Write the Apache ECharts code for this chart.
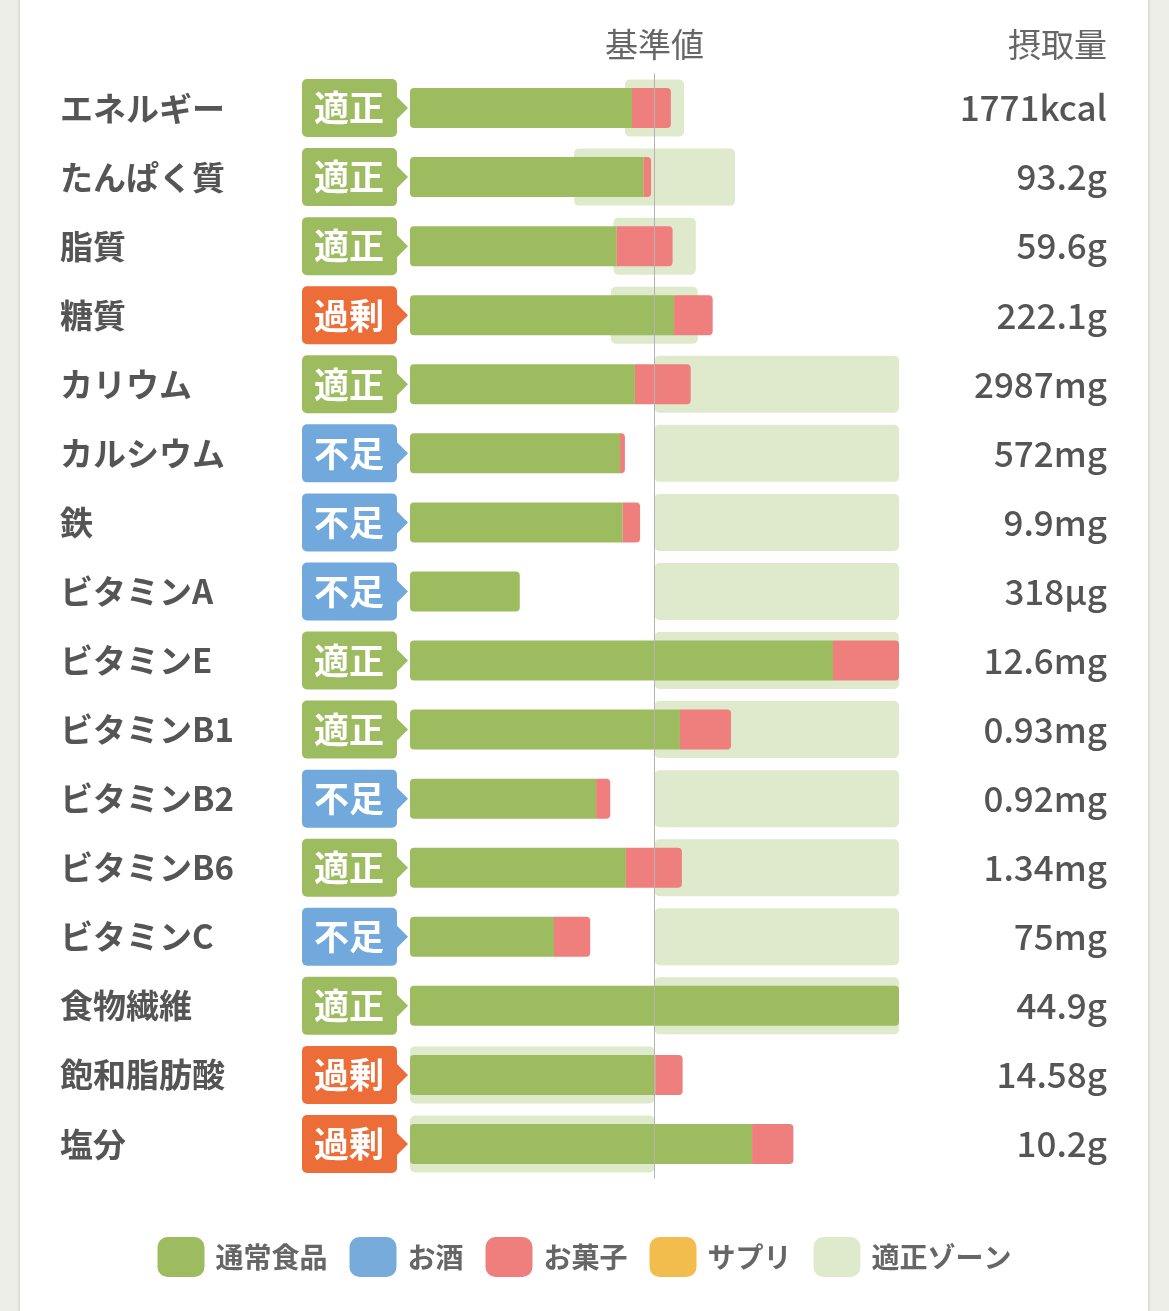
<!DOCTYPE html>
<html>
<head>
<meta charset="utf-8">
<script src="https://cdn.jsdelivr.net/npm/echarts@6/dist/echarts.min.js"></script>
<style>
  html, body { margin: 0; padding: 0; background: #eeeee8; }
  #chart { width: 1169px; height: 1311px; }
</style>
</head>
<body>
<div id="chart"></div>
<script>
// 栄養素ごとの摂取状況 (基準値 = 100)
var nutrients = ['エネルギー', 'たんぱく質', '脂質', '糖質', 'カリウム', 'カルシウム', '鉄', 'ビタミンA',
    'ビタミンE', 'ビタミンB1', 'ビタミンB2', 'ビタミンB6', 'ビタミンC', '食物繊維', '飽和脂肪酸', '塩分'];
var judgement = ['適正', '適正', '適正', '過剰', '適正', '不足', '不足', '不足',
    '適正', '適正', '不足', '適正', '不足', '適正', '過剰', '過剰'];
var intake = ['1771kcal', '93.2g', '59.6g', '222.1g', '2987mg', '572mg', '9.9mg', '318µg',
    '12.6mg', '0.93mg', '0.92mg', '1.34mg', '75mg', '44.9g', '14.58g', '10.2g'];

// % of standard value
var normalFood = [90.8, 95.5, 84.5, 108.0, 92.0, 85.9, 87.0, 44.9, 173.0, 110.4, 76.1, 88.3, 58.9, 200, 100.3, 139.9];
var alcohol    = [0, 0, 0, 0, 0, 0, 0, 0, 0, 0, 0, 0, 0, 0, 0, 0];
var sweets     = [15.9, 3.1, 22.9, 15.8, 22.8, 2.0, 7.1, 0, 27.0, 20.9, 5.8, 22.9, 14.8, 0, 11.2, 16.9];
var supplement = [0, 0, 0, 0, 0, 0, 0, 0, 0, 0, 0, 0, 0, 0, 0, 0];
var zoneFrom   = [87.9, 67.1, 83.2, 82.2, 100, 100, 100, 100, 100, 100, 100, 100, 100, 100, 0, 0];
var zoneTo     = [112.1, 132.9, 116.9, 117.7, 200, 200, 200, 200, 200, 200, 200, 200, 200, 200, 100, 100];

var FONT = '"Noto Sans CJK JP", "Noto Sans", sans-serif';
var colors = {
    food: '#9dbb5f',
    alcohol: '#76abdc',
    sweets: '#ee7f7d',
    supplement: '#f3bd4e',
    zone: '#dfe9cc'
};
var badgeColors = { '適正': '#9dbb5f', '過剰': '#ec6d38', '不足': '#72a9dc' };

var myChart = echarts.init(document.getElementById('chart'));

var foodData = normalFood.map(function (v, i) {
    var r = sweets[i] > 0 ? [4, 0, 0, 4] : 4;
    return { value: v, itemStyle: { borderRadius: r } };
});
var sweetsData = sweets.map(function (v) {
    return { value: v, itemStyle: { borderRadius: [0, 4, 4, 0] } };
});
var zoneData = zoneTo.map(function (v, i) { return v - zoneFrom[i]; });

var option = {
    backgroundColor: '#eeeee8',
    animation: false,
    graphic: [
        {
            type: 'rect', z: -10, silent: true,
            shape: { x: 20, y: -10, width: 1128, height: 1330 },
            style: { fill: '#fff', shadowBlur: 4, shadowColor: 'rgba(0,0,0,0.18)' }
        },
        {
            type: 'text', left: 605, top: 28,
            style: { text: '基準値', fontSize: 33, fontFamily: FONT, fill: '#666' }
        },
        {
            type: 'text', left: 1008, top: 28,
            style: { text: '摂取量', fontSize: 33, fontFamily: FONT, fill: '#666' }
        }
    ],
    legend: {
        data: ['通常食品', 'お酒', 'お菓子', 'サプリ', '適正ゾーン'],
        left: 'center',
        top: 1232,
        icon: 'roundRect',
        itemWidth: 47,
        itemHeight: 40,
        itemGap: 22,
        textStyle: { fontSize: 28, fontWeight: 'bold', color: '#666', fontFamily: FONT, padding: [0, 0, 0, 6] }
    },
    grid: { left: 410, right: 270, top: 73.5, bottom: 132.5, containLabel: false },
    xAxis: { type: 'value', min: 0, max: 200, show: false },
    yAxis: [
        {
            type: 'category', data: nutrients, inverse: true, position: 'left',
            axisLine: { show: false }, axisTick: { show: false },
            axisLabel: { align: 'left', margin: 350, fontSize: 33, fontWeight: 'bold', color: '#555', fontFamily: FONT }
        },
        {
            type: 'category', data: intake, inverse: true, position: 'right',
            axisLine: { show: false }, axisTick: { show: false },
            axisLabel: { align: 'right', margin: 208, fontSize: 35, fontWeight: 500, color: '#555', fontFamily: FONT }
        }
    ],
    series: [
        {
            name: 'zoneBase', type: 'bar', stack: 'zone', yAxisIndex: 1, barWidth: 57, silent: true, z: 1,
            itemStyle: { color: 'transparent' },
            data: zoneFrom
        },
        {
            name: '適正ゾーン', type: 'bar', stack: 'zone', yAxisIndex: 1, barWidth: 57, z: 1,
            itemStyle: { color: colors.zone, borderRadius: 5 },
            data: zoneData
        },
        {
            name: '通常食品', type: 'bar', stack: 'food', yAxisIndex: 0, barWidth: 40, z: 2,
            itemStyle: { color: colors.food },
            data: foodData,
            markLine: {
                silent: true, symbol: 'none', z: 10,
                label: { show: false },
                lineStyle: { color: '#b3b3b3', width: 1, type: 'solid' },
                data: [{ xAxis: 100 }]
            }
        },
        {
            name: 'お酒', type: 'bar', stack: 'food', yAxisIndex: 0, barWidth: 40, z: 2,
            itemStyle: { color: colors.alcohol },
            data: alcohol
        },
        {
            name: 'お菓子', type: 'bar', stack: 'food', yAxisIndex: 0, barWidth: 40, z: 2,
            itemStyle: { color: colors.sweets },
            data: sweetsData
        },
        {
            name: 'サプリ', type: 'bar', stack: 'food', yAxisIndex: 0, barWidth: 40, z: 2,
            itemStyle: { color: colors.supplement },
            data: supplement
        },
        {
            name: 'badge', type: 'custom', yAxisIndex: 0, clip: false, z: 3,
            data: nutrients.map(function (n, i) { return [0, i]; }),
            encode: { x: 0, y: 1 },
            renderItem: function (params, api) {
                var p = api.coord([0, api.value(1)]);
                var s = judgement[params.dataIndex];
                var c = badgeColors[s];
                return {
                    type: 'group',
                    children: [
                        { type: 'rect', shape: { x: p[0] - 108, y: p[1] - 29, width: 95, height: 58, r: 5 }, style: { fill: c } },
                        { type: 'polygon', shape: { points: [[p[0] - 14, p[1] - 12], [p[0] - 2, p[1]], [p[0] - 14, p[1] + 12]] }, style: { fill: c } },
                        {
                            type: 'text',
                            style: {
                                text: s, x: p[0] - 61, y: p[1], align: 'center', verticalAlign: 'middle',
                                fill: '#fff', fontSize: 35, fontWeight: 'bold', fontFamily: FONT
                            }
                        }
                    ]
                };
            }
        }
    ]
};

myChart.setOption(option);
</script>
</body>
</html>
